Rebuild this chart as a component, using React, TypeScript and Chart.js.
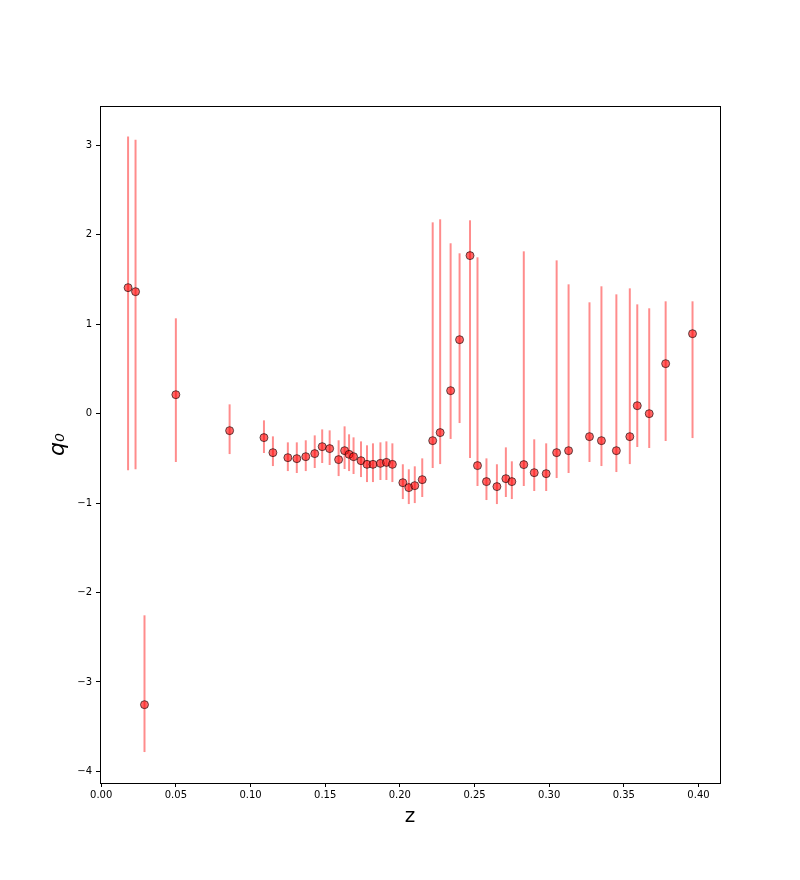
import React, { useEffect, useRef } from "react";
import { Chart, registerables } from "chart.js";

Chart.register(...registerables);

const zValues = [
  0.018, 0.023, 0.029, 0.05, 0.086, 0.109, 0.115, 0.125, 0.131, 0.137,
  0.143, 0.148, 0.153, 0.159, 0.163, 0.166, 0.169, 0.174, 0.178, 0.182,
  0.187, 0.191, 0.195, 0.202, 0.206, 0.21, 0.215, 0.222, 0.227, 0.234,
  0.24, 0.247, 0.252, 0.258, 0.265, 0.271, 0.275, 0.283, 0.29, 0.298,
  0.305, 0.313, 0.327, 0.335, 0.345, 0.354, 0.359, 0.367, 0.378, 0.396,
];

const q0Values = [
  1.409, 1.364, -3.254, 0.212, -0.19, -0.268, -0.436, -0.492, -0.503, -0.481,
  -0.447, -0.369, -0.391, -0.514, -0.414, -0.455, -0.481, -0.526, -0.567, -0.567,
  -0.556, -0.545, -0.567, -0.772, -0.827, -0.805, -0.738, -0.302, -0.212, 0.257,
  0.827, 1.767, -0.581, -0.76, -0.816, -0.727, -0.76, -0.57, -0.66, -0.671,
  -0.436, -0.414, -0.257, -0.302, -0.414, -0.257, 0.089, 0.0, 0.559, 0.894,
];

const q0Lower = [
  -0.634, -0.623, -3.784, -0.541, -0.452, -0.44, -0.586, -0.642, -0.664, -0.642,
  -0.608, -0.552, -0.574, -0.698, -0.619, -0.642, -0.675, -0.709, -0.765, -0.765,
  -0.742, -0.742, -0.765, -0.955, -1.011, -1.0, -0.932, -0.608, -0.564, -0.283,
  -0.105, -0.496, -0.809, -0.966, -1.011, -0.932, -0.955, -0.809, -0.865, -0.865,
  -0.72, -0.664, -0.541, -0.586, -0.653, -0.564, -0.373, -0.384, -0.306, -0.273,
];

const q0Upper = [
  3.1, 3.064, -2.255, 1.066, 0.104, -0.075, -0.254, -0.321, -0.321, -0.298,
  -0.243, -0.176, -0.187, -0.298, -0.142, -0.231, -0.265, -0.31, -0.354, -0.332,
  -0.321, -0.31, -0.332, -0.566, -0.622, -0.589, -0.5, 2.139, 2.173, 1.905,
  1.793, 2.162, 1.748, -0.5, -0.566, -0.377, -0.533, 1.815, -0.287, -0.332,
  1.714, 1.446, 1.245, 1.424, 1.334, 1.401, 1.222, 1.178, 1.256, 1.256,
];

const xTicks = [0, 0.05, 0.1, 0.15, 0.2, 0.25, 0.3, 0.35, 0.4];
const yTicks = [-4, -3, -2, -1, 0, 1, 2, 3];

const FONT = "'DejaVu Sans', sans-serif";

const errorBarPlugin = {
  id: "errorBars",
  beforeDatasetsDraw(chart: any) {
    const { ctx, scales } = chart;
    const xs = scales.x;
    const ys = scales.y;
    ctx.save();
    ctx.strokeStyle = "rgba(255,0,0,0.45)";
    ctx.lineWidth = 2;
    for (let i = 0; i < zValues.length; i++) {
      const px = xs.getPixelForValue(zValues[i]);
      ctx.beginPath();
      ctx.moveTo(px, ys.getPixelForValue(q0Lower[i]));
      ctx.lineTo(px, ys.getPixelForValue(q0Upper[i]));
      ctx.stroke();
    }
    ctx.restore();
  },
  afterDraw(chart: any) {
    const { ctx, chartArea } = chart;
    ctx.save();
    ctx.strokeStyle = "#000";
    ctx.lineWidth = 1;
    ctx.strokeRect(
      Math.round(chartArea.left) + 0.5,
      Math.round(chartArea.top) + 0.5,
      Math.round(chartArea.right - chartArea.left),
      Math.round(chartArea.bottom - chartArea.top)
    );
    ctx.restore();
  },
};

const fmtY = (v: number) => (v < 0 ? "\u2212" + Math.abs(v) : String(v));

export default function App() {
  const ref = useRef<HTMLCanvasElement | null>(null);

  useEffect(() => {
    if (!ref.current) return;
    const chart = new Chart(ref.current, {
      type: "scatter",
      data: {
        datasets: [
          {
            data: zValues.map((z, i) => ({ x: z, y: q0Values[i] })),
            backgroundColor: "rgba(255,0,0,0.6)",
            borderColor: "rgba(0,0,0,0.6)",
            borderWidth: 1,
            pointRadius: 4,
            pointHoverRadius: 4,
          },
        ],
      },
      options: {
        animation: false,
        responsive: false,
        devicePixelRatio: 1,
        events: [],
        layout: { padding: { left: 0, top: 106, right: 80, bottom: 0 } },
        plugins: {
          legend: { display: false },
          tooltip: { enabled: false },
        },
        scales: {
          x: {
            type: "linear",
            min: -0.0008,
            max: 0.4144,
            afterBuildTicks: (scale: any) => {
              scale.ticks = xTicks.map((v) => ({ value: v }));
            },
            afterFit: (scale: any) => {
              scale.height = 97;
            },
            ticks: {
              color: "#000",
              font: { family: FONT, size: 10 },
              padding: 2,
              maxRotation: 0,
              autoSkip: false,
              callback: (v: any) => Number(v).toFixed(2),
            },
            grid: {
              drawOnChartArea: false,
              drawTicks: true,
              tickLength: 4,
              color: "#000",
            },
            border: { display: false },
            title: {
              display: true,
              text: "z",
              color: "#000",
              font: { family: FONT, size: 20 },
              padding: { top: 0, bottom: 51 },
            },
          },
          y: {
            type: "linear",
            min: -4.13,
            max: 3.44,
            afterBuildTicks: (scale: any) => {
              scale.ticks = yTicks.map((v) => ({ value: v }));
            },
            afterFit: (scale: any) => {
              scale.width = 100;
            },
            ticks: {
              color: "#000",
              font: { family: FONT, size: 10 },
              padding: 4,
              autoSkip: false,
              callback: (v: any) => fmtY(Number(v)),
            },
            grid: {
              drawOnChartArea: false,
              drawTicks: true,
              tickLength: 4,
              color: "#000",
            },
            border: { display: false },
            title: {
              display: true,
              text: "q\u2080",
              color: "#000",
              font: { family: FONT, size: 22, style: "italic" },
              padding: { top: 45, bottom: 0 },
            },
          },
        },
      },
      plugins: [errorBarPlugin],
    });
    return () => chart.destroy();
  }, []);

  return (
    <div
      style={{
        position: "fixed",
        left: 0,
        top: 0,
        width: 800,
        height: 880,
        background: "#fff",
      }}
    >
      <canvas ref={ref} width={800} height={880} />
    </div>
  );
}
